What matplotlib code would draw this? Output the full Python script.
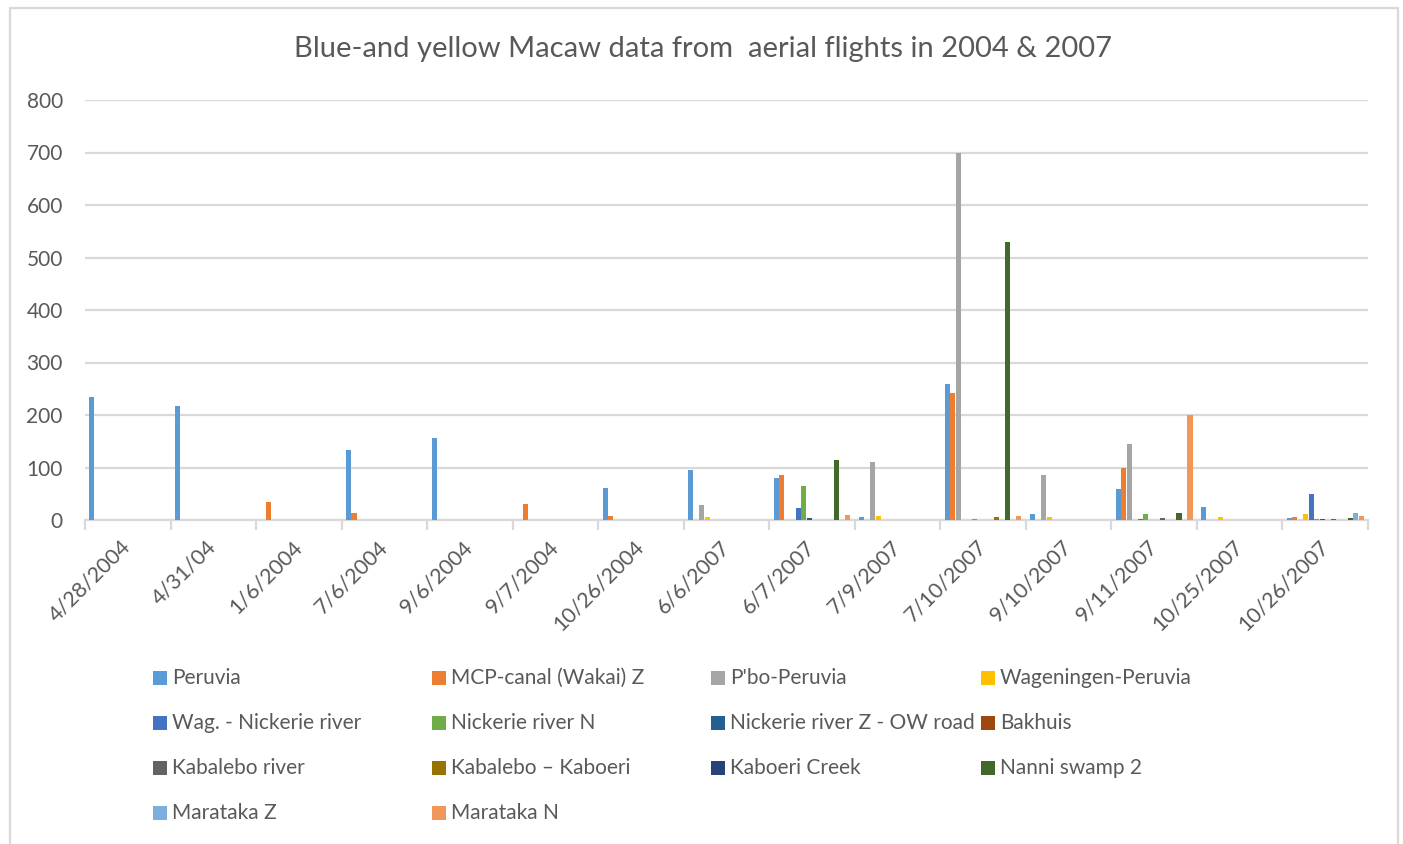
import matplotlib
matplotlib.use("Agg")
import matplotlib.pyplot as plt
import numpy as np
from matplotlib.patches import Rectangle

plt.rcParams['font.family'] = ['Lato', 'DejaVu Sans']

# flight dates (category axis)
dates = ["4/28/2004", "4/31/04", "1/6/2004", "7/6/2004", "9/6/2004", "9/7/2004",
         "10/26/2004", "6/6/2007", "6/7/2007", "7/9/2007", "7/10/2007",
         "9/10/2007", "9/11/2007", "10/25/2007", "10/26/2007"]

# macaw counts per area, one value per flight date
peruvia = [235, 217, 0, 133, 156, 0, 61, 96, 80, 5, 259, 12, 59, 24, 4]
mcp_canal = [0, 0, 35, 13, 0, 30, 8, 0, 86, 0, 242, 0, 100, 0, 6]
pbo_peruvia = [0, 0, 0, 0, 0, 0, 0, 29, 0, 110, 700, 85, 144, 0, 0]
wageningen_peruvia = [0, 0, 0, 0, 0, 0, 0, 6, 0, 7, 0, 6, 0, 6, 12]
wag_nickerie = [0, 0, 0, 0, 0, 0, 0, 0, 23, 0, 0, 0, 1, 0, 50]
nickerie_n = [0, 0, 0, 0, 0, 0, 0, 0, 65, 0, 2, 0, 12, 0, 2]
nickerie_z = [0, 0, 0, 0, 0, 0, 0, 0, 4, 0, 0, 0, 0, 0, 2]
bakhuis = [0] * 15
kabalebo_river = [0, 0, 0, 0, 0, 0, 0, 0, 0, 0, 0, 0, 4, 0, 2]
kabalebo_kaboeri = [0, 0, 0, 0, 0, 0, 0, 0, 0, 0, 6, 0, 0, 0, 0]
kaboeri_creek = [0] * 15
nanni_swamp = [0, 0, 0, 0, 0, 0, 0, 0, 115, 0, 530, 0, 13, 0, 4]
marataka_z = [0, 0, 0, 0, 0, 0, 0, 0, 0, 0, 0, 0, 0, 0, 14]
marataka_n = [0, 0, 0, 0, 0, 0, 0, 0, 10, 0, 8, 0, 200, 0, 8]

series_names = ["Peruvia", "MCP-canal (Wakai) Z", "P'bo-Peruvia", "Wageningen-Peruvia",
                "Wag. - Nickerie river", "Nickerie river N", "Nickerie river Z - OW road",
                "Bakhuis", "Kabalebo river", "Kabalebo \u2013 Kaboeri", "Kaboeri Creek",
                "Nanni swamp 2", "Marataka Z", "Marataka N"]
series_values = [peruvia, mcp_canal, pbo_peruvia, wageningen_peruvia, wag_nickerie,
                 nickerie_n, nickerie_z, bakhuis, kabalebo_river, kabalebo_kaboeri,
                 kaboeri_creek, nanni_swamp, marataka_z, marataka_n]
series_colors = ["#5B9BD5", "#ED7D31", "#A5A5A5", "#FFC000", "#4472C4", "#70AD47",
                 "#255E91", "#9E480E", "#636363", "#997300", "#264478", "#43682B",
                 "#7CAFDD", "#F1975A"]

W, H = 1403, 844
text_color = "#595959"
grid_color = "#D9D9D9"

fig = plt.figure(figsize=(W / 100, H / 100), dpi=100)
ax = fig.add_axes([85 / W, 1 - 520 / H, (1368 - 85) / W, 420 / H])

x = np.arange(len(dates))
bw = 0.0645
for i, (vals, col) in enumerate(zip(series_values, series_colors)):
    ax.bar(x + (i - 6.5) * bw, vals, width=bw * 0.92, color=col, zorder=3)

ax.set_xlim(-0.5, len(dates) - 0.5)
ax.set_ylim(0, 800)
ax.set_yticks(range(0, 801, 100))
ax.yaxis.grid(True, color=grid_color, lw=1.6, zorder=0)
ax.set_axisbelow(True)
for side in ("top", "right", "left"):
    ax.spines[side].set_visible(False)
ax.spines["bottom"].set_color(grid_color)
ax.spines["bottom"].set_linewidth(1.6)
ax.tick_params(axis="y", length=0, labelsize=15, labelcolor=text_color, pad=16)

# tick marks between categories, labels at category centres
ax.set_xticks(np.arange(-0.5, len(dates), 1))
ax.set_xticklabels([])
ax.tick_params(axis="x", which="major", length=7, width=1.6, color=grid_color)
ax.set_xticks(x, minor=True)
ax.set_xticklabels(dates, minor=True, rotation=45, ha="right", va="center",
                   rotation_mode="anchor", fontsize=15.5, color=text_color)
ax.tick_params(axis="x", which="minor", length=0, pad=17)

fig.text(703 / W, 1 - 49 / H, "Blue-and yellow Macaw data from  aerial flights in 2004 & 2007",
         ha="center", va="center", fontsize=21, color=text_color)

# legend laid out in four columns, filled row by row
col_x = [153, 432, 711, 981]
row_y = [678, 723, 768, 813]
for k, (name, col) in enumerate(zip(series_names, series_colors)):
    r, c = divmod(k, 4)
    px, py = col_x[c], row_y[r]
    fig.add_artist(Rectangle((px / W, 1 - (py + 7) / H), 14 / W, 14 / H,
                             transform=fig.transFigure, color=col, lw=0))
    fig.text((px + 19) / W, 1 - py / H, name, ha="left", va="center",
             fontsize=15, color=text_color)

# chart frame
fig.add_artist(Rectangle((10 / W, -0.05), (1398 - 10) / W, (H - 8) / H + 0.05,
                         transform=fig.transFigure, fill=False, ec=grid_color, lw=1.6))

fig.savefig("out.png", dpi=100)
